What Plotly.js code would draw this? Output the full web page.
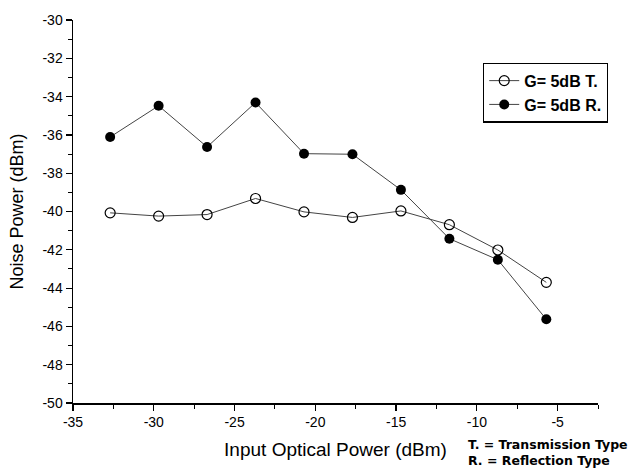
<!DOCTYPE html>
<html>
<head>
<meta charset="utf-8">
<script src="https://cdn.plot.ly/plotly-3.0.1.min.js"></script>
<style>html,body{margin:0;padding:0;background:#fff;}#chart{width:634px;height:469px;}</style>
</head>
<body>
<div id="chart"></div>
<script>
const inputPower = [-32.7, -29.7, -26.7, -23.7, -20.7, -17.7, -14.7, -11.7, -8.7, -5.7];
const noiseT = [-40.07, -40.24, -40.16, -39.32, -40.02, -40.31, -39.97, -40.69, -42.01, -43.70];
const noiseR = [-36.11, -34.48, -36.63, -34.31, -36.98, -37.01, -38.87, -41.42, -42.52, -45.63];
const seriesNames = ["G= 5dB T.", "G= 5dB R."];
const xTicks = [-35, -30, -25, -20, -15, -10, -5];
const yTicks = [-50, -48, -46, -44, -42, -40, -38, -36, -34, -32, -30];
const noteLines = ["T. = Transmission Type", "R. = Reflection Type"];

const font = "Liberation Sans, Arial, sans-serif";
const noteFont = "DejaVu Sans, Liberation Sans, Arial, sans-serif";

const traces = [
  {
    x: inputPower, y: noiseT, name: seriesNames[0], type: "scatter", mode: "lines+markers",
    line: {color: "#444", width: 1},
    marker: {symbol: "circle-open", size: 10, color: "#000", line: {width: 1.2, color: "#000"}}
  },
  {
    x: inputPower, y: noiseR, name: seriesNames[1], type: "scatter", mode: "lines+markers",
    line: {color: "#444", width: 1},
    marker: {symbol: "circle", size: 10, color: "#000"}
  }
];

const layout = {
  width: 634, height: 469,
  margin: {l: 72.5, r: 36, t: 19.5, b: 66},
  paper_bgcolor: "#fff", plot_bgcolor: "#fff",
  font: {family: font, color: "#000", size: 14},
  showlegend: true,
  legend: {
    x: 0.781, y: 0.889, xanchor: "left", yanchor: "top",
    bordercolor: "#000", borderwidth: 1.2, bgcolor: "#fff",
    font: {family: font, size: 16, weight: "bold", color: "#000"},
    tracegroupgap: 0, itemwidth: 30
  },
  xaxis: {
    range: [-35, -2.5], tickvals: xTicks, ticktext: xTicks.map(String),
    showgrid: false, zeroline: false, showline: true, linecolor: "#000", linewidth: 1.5,
    ticks: "outside", ticklen: 6, tickwidth: 1.2, tickcolor: "#000",
    minor: {dtick: 2.5, ticks: "outside", ticklen: 4, tickwidth: 1, tickcolor: "#000"},
    tickfont: {family: font, size: 14},
    title: {text: "Input Optical Power (dBm)", font: {family: font, size: 19}, standoff: 13}
  },
  yaxis: {
    range: [-50, -30], tickvals: yTicks, ticktext: yTicks.map(String),
    showgrid: false, zeroline: false, showline: true, linecolor: "#000", linewidth: 1.5,
    ticks: "outside", ticklen: 6, tickwidth: 1.2, tickcolor: "#000",
    minor: {dtick: 1, ticks: "outside", ticklen: 4, tickwidth: 1, tickcolor: "#000"},
    tickfont: {family: font, size: 14},
    title: {text: "Noise Power (dBm)", font: {family: font, size: 18}, standoff: 14}
  },
  annotations: [
    {xref: "paper", yref: "paper", x: 0.749, y: -0.108, xanchor: "left", yanchor: "middle",
     text: "<b>" + noteLines[0] + "</b>", showarrow: false, font: {family: noteFont, size: 12.5}},
    {xref: "paper", yref: "paper", x: 0.749, y: -0.150, xanchor: "left", yanchor: "middle",
     text: "<b>" + noteLines[1] + "</b>", showarrow: false, font: {family: noteFont, size: 12.5}}
  ]
};

Plotly.newPlot("chart", traces, layout, {displayModeBar: false, staticPlot: true});
</script>
</body>
</html>
